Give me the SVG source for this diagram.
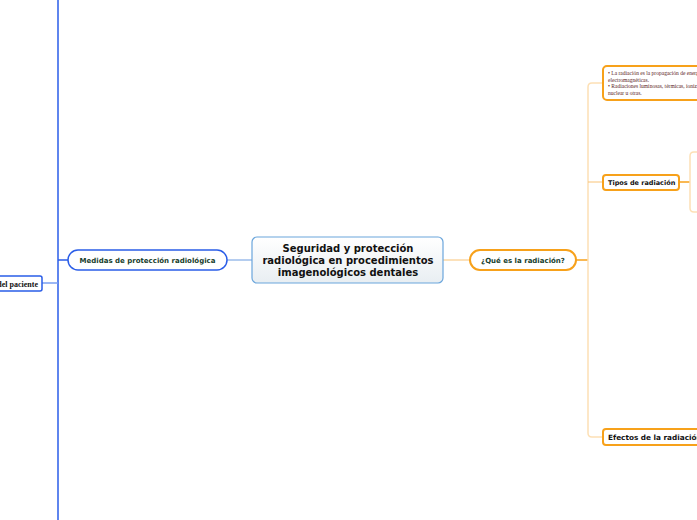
<svg xmlns="http://www.w3.org/2000/svg" width="697" height="520" viewBox="0 0 697 520">
<defs>
<linearGradient id="cg" x1="0" y1="0" x2="0" y2="1"><stop offset="0" stop-color="#ffffff"/><stop offset="1" stop-color="#e8eef2"/></linearGradient>
<style>
.v{font-family:Verdana,"DejaVu Sans",sans-serif;font-weight:bold}
.s{font-family:"Liberation Serif","DejaVu Serif",serif}
.ob{fill:#fff;stroke:#f7a11a;stroke-width:2}
.bb{fill:#fff;stroke:#2a5de8;stroke-width:1.5}
</style>
</defs>
<rect width="697" height="520" fill="#fff"/>
<g id="connectors" fill="none">
<path d="M252 260H227" stroke="#6b9be0" stroke-width="1"/>
<path d="M68 260H58" stroke="#2a5de8" stroke-width="1.5"/>
<path d="M58 0V520" stroke="#2a5de8" stroke-width="1.5"/>
<path d="M42 283H58" stroke="#7a9ff0" stroke-width="1.5"/>
<path d="M443 260H470" stroke="#f9c377" stroke-width="1"/>
<path d="M576 260H588" stroke="#f7a11a" stroke-width="1.5"/>
<path d="M603 83H592Q588 83 588 87V433Q588 437 592 437H603" stroke="#fde0b5" stroke-width="1.5"/>
<path d="M588 182H603" stroke="#f9c377" stroke-width="1"/>
<path d="M679 182H690" stroke="#f7a11a" stroke-width="1.5"/>
<path d="M697 152H694Q690 152 690 156V208Q690 212 694 212H697" stroke="#fde0b5" stroke-width="1.5"/>
</g>
<g id="central">
<rect x="252" y="237" width="191" height="46" rx="5" fill="url(#cg)" stroke="#6ba6dc" stroke-width="1.2"/>
<text class="v" font-size="10" fill="#111" text-anchor="middle"><tspan x="348" y="252">Seguridad y protección</tspan><tspan x="348" y="264">radiológica en procedimientos</tspan><tspan x="348" y="276">imagenológicos dentales</tspan></text>
</g>
<g id="medidas">
<rect class="bb" x="68" y="250" width="159" height="20" rx="10"/>
<text class="v" x="147.5" y="262.5" font-size="7" fill="#163d2c" text-anchor="middle">Medidas de protección radiológica</text>
</g>
<g id="paciente">
<rect class="bb" x="-10" y="276" width="52" height="15" rx="2" stroke="#1a3cc0"/>
<text class="s" x="38" y="286.5" font-size="8" font-weight="bold" fill="#111" text-anchor="end">del paciente</text>
</g>
<g id="que-es">
<rect class="ob" x="470" y="250" width="106" height="20" rx="10" stroke-width="1.5"/>
<text class="v" x="523" y="262.5" font-size="7" fill="#163d2c" text-anchor="middle">¿Qué es la radiación?</text>
</g>
<g id="definicion">
<rect class="ob" x="603" y="66" width="110" height="34" rx="4"/>
<text class="s" font-size="5.5" fill="#5a1c1c"><tspan x="608" y="75">• La radiación es la propagación de energía</tspan><tspan x="608" y="81.5">electromagnéticas.</tspan><tspan x="608" y="88">• Radiaciones luminosas, térmicas, ionizantes,</tspan><tspan x="608" y="94.5">nuclear u otras.</tspan></text>
</g>
<g id="tipos">
<rect class="ob" x="603" y="175" width="76" height="15" rx="3"/>
<text class="v" x="608" y="185.3" font-size="6.5" fill="#111">Tipos de radiación</text>
</g>
<g id="efectos">
<rect class="ob" x="603" y="429" width="110" height="16" rx="3"/>
<text class="v" x="608" y="440" font-size="7.3" fill="#111">Efectos de la radiación</text>
</g>
</svg>
